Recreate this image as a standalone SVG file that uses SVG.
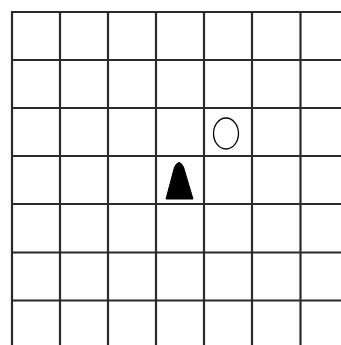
<svg xmlns="http://www.w3.org/2000/svg" width="341" height="345" viewBox="0 0 341 345">
<style>
.g{stroke:#2a2a2a;stroke-width:2.2;fill:none}
</style>
<rect width="341" height="345" fill="#fff"/>
<g id="grid" class="g">
<line x1="12" y1="12" x2="12" y2="345"/>
<line x1="60" y1="12" x2="60" y2="345"/>
<line x1="108" y1="12" x2="108" y2="345"/>
<line x1="156" y1="12" x2="156" y2="345"/>
<line x1="204" y1="12" x2="204" y2="345"/>
<line x1="252" y1="12" x2="252" y2="345"/>
<line x1="300.5" y1="12" x2="300.5" y2="345"/>
<line x1="11" y1="12" x2="341" y2="12"/>
<line x1="11" y1="60" x2="341" y2="60"/>
<line x1="11" y1="108" x2="341" y2="108"/>
<line x1="11" y1="156" x2="341" y2="156"/>
<line x1="11" y1="204" x2="341" y2="204"/>
<line x1="11" y1="252.5" x2="341" y2="252.5"/>
<line x1="11" y1="300.5" x2="341" y2="300.5"/>
</g>
<g id="circle">
<ellipse cx="226" cy="133.5" rx="12.5" ry="15.5" fill="#fff" stroke="#000" stroke-width="1.3"/>
</g>
<g id="pawn">
<path d="M166,199 L174.5,167 Q179,158 183.5,167 L193,199 Z" fill="#000" stroke="#000" stroke-width="1" stroke-linejoin="round"/>
</g>
</svg>
